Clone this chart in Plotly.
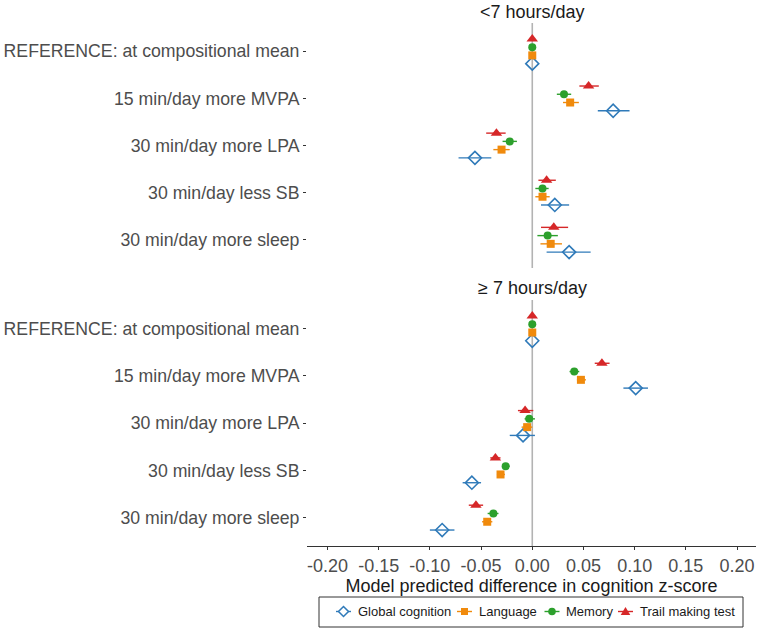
import plotly.graph_objects as go

# comparison rows, top to bottom
comparisons = [
    "REFERENCE: at compositional mean",
    "15 min/day more MVPA",
    "30 min/day more LPA",
    "30 min/day less SB",
    "30 min/day more sleep",
]
outcomes = ["Global cognition", "Language", "Memory", "Trail making test"]

# <7 hours/day: estimates and 95% CI per outcome (one value per comparison)
short_est = {
    "Global cognition": [0.0, 0.079, -0.056, 0.022, 0.036],
    "Language": [0.0, 0.037, -0.030, 0.010, 0.018],
    "Memory": [0.0, 0.031, -0.022, 0.010, 0.015],
    "Trail making test": [0.0, 0.055, -0.035, 0.014, 0.021],
}
short_lo = {
    "Global cognition": [0.0, 0.064, -0.072, 0.0085, 0.014],
    "Language": [0.0, 0.030, -0.038, 0.003, 0.008],
    "Memory": [0.0, 0.024, -0.029, 0.003, 0.005],
    "Trail making test": [0.0, 0.046, -0.045, 0.006, 0.0085],
}
short_hi = {
    "Global cognition": [0.0, 0.095, -0.040, 0.036, 0.057],
    "Language": [0.0, 0.0455, -0.022, 0.017, 0.029],
    "Memory": [0.0, 0.038, -0.015, 0.016, 0.025],
    "Trail making test": [0.0, 0.065, -0.026, 0.023, 0.035],
}

# >=7 hours/day
long_est = {
    "Global cognition": [0.0, 0.101, -0.009, -0.059, -0.088],
    "Language": [0.0, 0.0475, -0.005, -0.031, -0.044],
    "Memory": [0.0, 0.041, -0.003, -0.026, -0.038],
    "Trail making test": [0.0, 0.068, -0.007, -0.036, -0.055],
}
long_lo = {
    "Global cognition": [0.0, 0.089, -0.022, -0.068, -0.100],
    "Language": [0.0, 0.0436, -0.0104, -0.0345, -0.049],
    "Memory": [0.0, 0.0364, -0.0075, -0.029, -0.0436],
    "Trail making test": [0.0, 0.061, -0.014, -0.041, -0.062],
}
long_hi = {
    "Global cognition": [0.0, 0.113, 0.0026, -0.050, -0.076],
    "Language": [0.0, 0.0524, 0.0, -0.0267, -0.039],
    "Memory": [0.0, 0.0459, 0.0026, -0.022, -0.033],
    "Trail making test": [0.0, 0.0755, 0.001, -0.031, -0.048],
}

x_ticks = [-0.20, -0.15, -0.10, -0.05, 0.00, 0.05, 0.10, 0.15, 0.20]

colors = {
    "Global cognition": "#2f7ab9",
    "Language": "#f08a0c",
    "Memory": "#2ca02c",
    "Trail making test": "#d62728",
}
symbols = {
    "Global cognition": "diamond-open",
    "Language": "square",
    "Memory": "circle",
    "Trail making test": "triangle-up",
}
sizes = {"Global cognition": 10, "Language": 8, "Memory": 8, "Trail making test": 10}
# dodge offsets (axis reversed, so negative = higher up)
offsets = {"Global cognition": 0.2625, "Language": 0.0875, "Memory": -0.0875, "Trail making test": -0.2625}

W, H = 760, 629
M_L, M_R, M_T, M_B = 307, 4, 23, 83
PW, PH = W - M_L - M_R, H - M_T - M_B


def px_x(px):
    return (px - M_L) / PW


def px_y(py):
    return 1 - (py - M_T) / PH


fig = go.Figure()

panels = [("y", short_est, short_lo, short_hi), ("y2", long_est, long_lo, long_hi)]
for yref, est, lo, hi in panels:
    for o in outcomes:
        ys = [i + 1 + offsets[o] for i in range(len(comparisons))]
        fig.add_trace(go.Scatter(
            x=est[o], y=ys, yaxis=yref, xaxis="x",
            mode="markers",
            marker=dict(symbol=symbols[o], size=sizes[o], color=colors[o],
                        line=dict(width=1.6 if o == "Global cognition" else 0, color=colors[o])),
            error_x=dict(type="data", symmetric=False,
                         array=[h - e for h, e in zip(hi[o], est[o])],
                         arrayminus=[e - l for e, l in zip(est[o], lo[o])],
                         color=colors[o], thickness=1.4, width=0),
            showlegend=False, name=o, hoverinfo="x+name",
        ))

for yref in ["y domain", "y2 domain"]:
    fig.add_shape(type="line", xref="x", yref=yref, x0=0, x1=0, y0=0, y1=1,
                  line=dict(color="#b3b3b3", width=1.6), layer="below")

# legend drawn by hand (ggplot-style compact keys)
leg_y = px_y(611.5)
fig.add_shape(type="rect", xref="paper", yref="paper",
              x0=px_x(319), x1=px_x(743), y0=px_y(597), y1=px_y(627),
              line=dict(color="#333333", width=1), fillcolor="white")
key_x = {"Global cognition": 343.5, "Language": 464.5, "Memory": 552, "Trail making test": 625.5}
key_paths = {
    "Global cognition": "M0,5 L5,0 L0,-5 L-5,0 Z",
    "Language": "M-3.5,3.5 L3.5,3.5 L3.5,-3.5 L-3.5,-3.5 Z",
    "Trail making test": "M0,4.5 L4.8,-3.5 L-4.8,-3.5 Z",
}
annotations = []
for o in outcomes:
    kx = px_x(key_x[o])
    pix = dict(xref="paper", yref="paper", xsizemode="pixel", ysizemode="pixel",
               xanchor=kx, yanchor=leg_y)
    fig.add_shape(type="line", x0=-7.5, x1=7.5, y0=0, y1=0,
                  line=dict(color=colors[o], width=1.4), **pix)
    if o == "Memory":
        fig.add_shape(type="circle", x0=-3.8, x1=3.8, y0=-3.8, y1=3.8,
                      fillcolor=colors[o], line=dict(width=0), **pix)
    else:
        open_key = o == "Global cognition"
        fig.add_shape(type="path", path=key_paths[o],
                      fillcolor="white" if open_key else colors[o],
                      line=dict(color=colors[o], width=1.5 if open_key else 0), **pix)
    annotations.append(dict(text=o, x=px_x(key_x[o] + 12), y=leg_y, xref="paper", yref="paper",
                            xanchor="left", yanchor="middle", showarrow=False,
                            font=dict(size=13, color="#1a1a1a")))

annotations += [
    dict(text="<7 hours/day", x=0, xref="x", y=px_y(12), yref="paper",
         showarrow=False, yanchor="middle", font=dict(size=18, color="#1a1a1a")),
    dict(text="≥ 7 hours/day", x=0, xref="x", y=px_y(288), yref="paper",
         showarrow=False, yanchor="middle", font=dict(size=18, color="#1a1a1a")),
]

ycommon = dict(
    range=[5.6, 0.4], tickmode="array",
    tickvals=list(range(1, len(comparisons) + 1)), ticktext=comparisons,
    ticks="outside", ticklen=3, tickcolor="#333333", tickwidth=1,
    showgrid=False, zeroline=False, showline=False,
    tickfont=dict(size=17.7, color="#4d4d4d"),
    anchor="x",
)

fig.update_layout(
    width=W, height=H,
    margin=dict(l=M_L, r=M_R, t=M_T, b=M_B, autoexpand=False),
    paper_bgcolor="white", plot_bgcolor="white",
    font=dict(family="Liberation Sans, Arial, sans-serif", color="#1a1a1a"),
    showlegend=False,
    xaxis=dict(
        range=[-0.22, 0.2185], tickmode="array", tickvals=x_ticks,
        ticktext=[f"{v:.2f}" for v in x_ticks],
        ticks="outside", ticklen=3, tickcolor="#333333",
        showgrid=False, zeroline=False, showline=True, linecolor="#333333", linewidth=1.1,
        tickfont=dict(size=18, color="#4d4d4d"),
        title=dict(text="Model predicted difference in cognition z-score",
                   font=dict(size=18, color="#1a1a1a"), standoff=4),
        anchor="y2",
    ),
    yaxis=dict(domain=[px_y(268), 1.0], **ycommon),
    yaxis2=dict(domain=[0.0, px_y(300)], **ycommon),
    annotations=annotations,
)

# drop the browser's default 8px body margin so the figure fills the window
fig.write_html("out.html", config={"displayModeBar": False},
               post_script="document.body.style.margin = '0';")
